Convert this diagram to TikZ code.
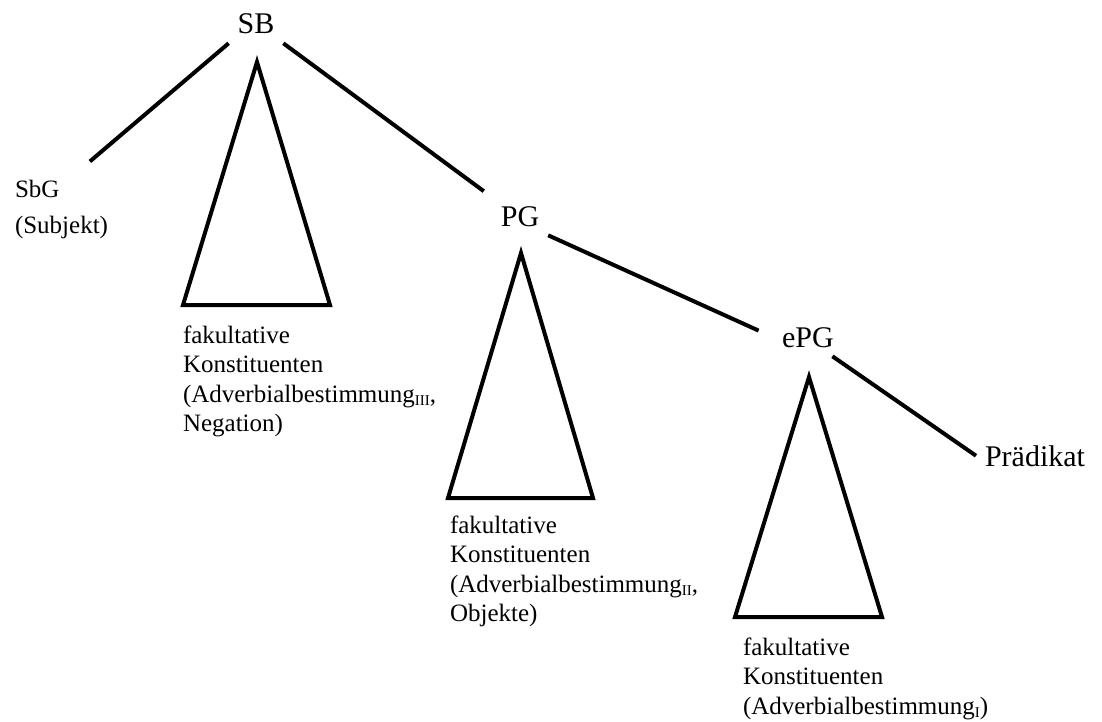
\documentclass[tikz,border=0pt]{standalone}
\usepackage{fontspec}
\setmainfont{Liberation Serif}
\usetikzlibrary{positioning}
\newcommand{\sbs}[1]{\raisebox{-0.3ex}{\fontsize{15}{15}\selectfont #1}}

\begin{document}
\begin{tikzpicture}[yscale=-1, x=1pt, y=1pt, line width=4pt, cat/.style={font=\fontsize{30}{36}\selectfont, inner sep=7pt, anchor=base}, note/.style={font=\fontsize{25}{29.5}\selectfont, align=left, inner sep=0pt, anchor=base west}]
    \useasboundingbox (0,0) rectangle (1102,722);

    \node[cat] (sb) at (256,34) {SB};
    \node[cat] (pg) at (520,226) {PG};
    \node[cat] (epg) at (808,347) {ePG};
    \node[cat, anchor=base west] (praed) at (976,466) {Prädikat};
    \node[note, inner sep=7pt] (sbg) at (6,233) {SbG\\[6pt](Subjekt)};

    \draw (257,62) -- (330,305) -- (183,305) -- cycle;
    \draw (521,253) -- (593,498) -- (448,498) -- cycle;
    \draw (809,377) -- (882,617) -- (735,617) -- cycle;

    \node[note] (k3) at (181,431.5) {fakultative\\Konstituenten\\(Adverbialbestimmung\sbs{III},\\Negation)};
    \node[note] (k2) at (448,621.5) {fakultative\\Konstituenten\\(Adverbialbestimmung\sbs{II},\\Objekte)};
    \node[note] (k1) at (741,714) {fakultative\\Konstituenten\\(Adverbialbestimmung\sbs{I})};

    \draw[shorten >=15pt] (sb.south west) -- (sbg.66);
    \draw[shorten >=10pt] (sb.south east) -- (pg.north west);
    \draw[shorten >=16pt] (pg.south east) -- (epg.west);
    \draw (epg.-38) -- (praed.west);
\end{tikzpicture}
\end{document}
